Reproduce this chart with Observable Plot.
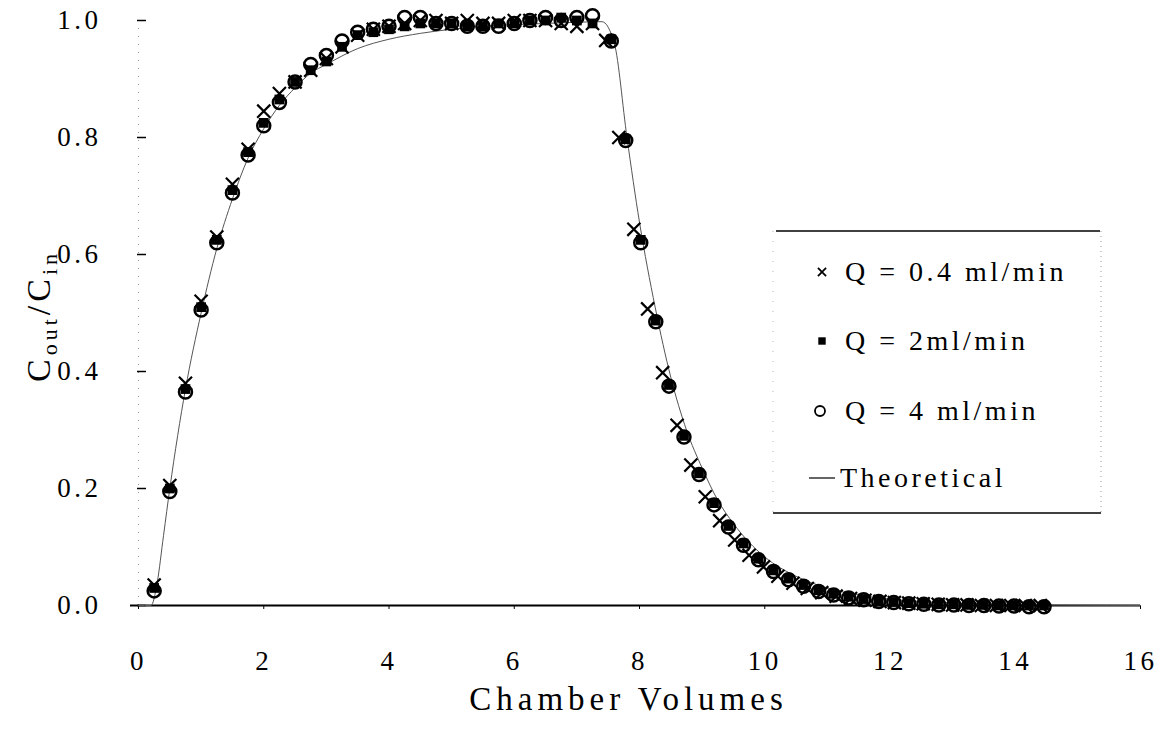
<!DOCTYPE html>
<html><head><meta charset="utf-8">
<script src="https://cdn.jsdelivr.net/npm/d3@7"></script>
<script src="https://cdn.jsdelivr.net/npm/@observablehq/plot@0.6"></script>
<style>
html,body{margin:0;padding:0;background:#fff;}
#chart{position:relative;width:1170px;height:733px;}
</style>
</head><body><div id="chart"></div>
<script>
// ---- Data ----
const xTicks = [0, 2, 4, 6, 8, 10, 12, 14, 16];
const yTicks = [0, 0.2, 0.4, 0.6, 0.8, 1.0];
const legendLabels = ["Q = 0.4 ml/min", "Q = 2ml/min", "Q = 4 ml/min", "Theoretical"];

// Loading phase, chamber volumes
const riseX = [0.25,0.5,0.75,1.0,1.25,1.5,1.75,2.0,2.25,2.5,2.75,3.0,3.25,3.5,3.75,4.0,4.25,4.5,4.75,5.0,5.25,5.5,5.75,6.0,6.25,6.5,6.75,7.0,7.25];
const q04Rise = [0.035,0.205,0.38,0.52,0.63,0.72,0.78,0.845,0.875,0.895,0.915,0.935,0.955,0.975,0.985,0.99,0.995,1.0,1.0,0.995,1.0,0.995,0.995,1.0,1.0,1.0,0.995,0.99,0.995];
const q2Rise  = [0.03,0.2,0.37,0.51,0.625,0.71,0.775,0.825,0.865,0.895,0.915,0.93,0.955,0.975,0.98,0.985,0.99,0.995,0.995,0.995,0.99,0.99,0.995,0.995,1.0,1.0,1.005,1.0,0.995];
const q4Rise  = [0.025,0.195,0.365,0.505,0.62,0.705,0.77,0.82,0.86,0.895,0.925,0.94,0.965,0.98,0.985,0.99,1.005,1.005,0.995,0.995,0.99,0.99,0.99,0.995,1.0,1.005,1.0,1.005,1.008];

// Washout phase
const washX04 = [7.46,7.67,7.91,8.13,8.37,8.6,8.82,9.05,9.28,9.52,9.75,9.98,10.21,10.45,10.68,10.91,11.14,11.37,11.6,11.84,12.07,12.3,12.53,12.77,13.0,13.23,13.46,13.7,13.93,14.16,14.4];
const q04Wash = [0.966,0.80,0.643,0.507,0.398,0.308,0.24,0.186,0.145,0.112,0.086,0.066,0.05,0.038,0.029,0.022,0.016,0.012,0.009,0.007,0.005,0.004,0.003,0.002,0.001,0.001,0,0,0,0,0];
const washX = [7.55,7.78,8.02,8.26,8.47,8.71,8.95,9.19,9.42,9.66,9.9,10.14,10.38,10.62,10.86,11.1,11.34,11.58,11.82,12.06,12.3,12.54,12.78,13.02,13.26,13.5,13.74,13.98,14.22,14.46];
const q2Wash = [0.968,0.797,0.625,0.487,0.377,0.29,0.226,0.175,0.136,0.106,0.08,0.06,0.046,0.035,0.026,0.02,0.015,0.011,0.008,0.006,0.004,0.003,0.002,0.002,0.001,0.001,0,0,0,0];
const q4Wash = [0.965,0.795,0.62,0.485,0.375,0.288,0.224,0.172,0.134,0.103,0.078,0.058,0.044,0.033,0.024,0.018,0.013,0.01,0.007,0.005,0.003,0.002,0.001,0.001,0,0,-0.001,-0.001,-0.002,-0.002];

// Theoretical curve
const theoX = [0,0.2,0.3,0.4,0.5,0.75,1.0,1.25,1.5,1.75,2.0,2.25,2.5,2.75,3.0,3.5,4.0,4.5,5.0,5.5,6.0,6.5,7.0,7.4,7.6,7.8,8.0,8.25,8.5,8.75,9.0,9.25,9.5,9.75,10.0,10.5,11.0,11.5,12.0,13.0,14.0,15.0,16.0];
const theoY = [0,0,0.04,0.12,0.2,0.37,0.5,0.61,0.695,0.765,0.815,0.855,0.885,0.91,0.925,0.952,0.968,0.978,0.985,0.99,0.993,0.995,0.997,0.998,0.96,0.8,0.655,0.51,0.39,0.3,0.235,0.18,0.14,0.108,0.083,0.05,0.03,0.018,0.011,0.004,0.0015,0.0005,0];

// ---- Build tables ----
const rows = (xs, ys) => xs.map((x, i) => ({x, y: ys[i]}));
const q04 = rows(riseX, q04Rise).concat(rows(washX04, q04Wash));
const q2 = rows(riseX, q2Rise).concat(rows(washX, q2Wash));
const q4 = rows(riseX, q4Rise).concat(rows(washX, q4Wash));
const theory = rows(theoX, theoY);

const FONT = "'Liberation Serif', 'Times New Roman', Times, serif";

const plot = Plot.plot({
  width: 1170,
  height: 733,
  marginLeft: 138,
  marginRight: 30,
  marginTop: 20,
  marginBottom: 128,
  x: {domain: [0, 16]},
  y: {domain: [0, 1]},
  style: {fontFamily: FONT, fontSize: "27px", background: "white", color: "black", overflow: "visible"},
  marks: [
    Plot.ruleX([0], {stroke: "#9a9a9a", strokeDasharray: "1,7"}),
    Plot.axisY(yTicks, {tickSize: 0, tickPadding: 37, tickFormat: d => d.toFixed(1), label: null, fontSize: 27}),
    Plot.axisY(yTicks, {tickSize: 9, dx: 8, tickFormat: () => "", label: null, strokeWidth: 1.5}),
    Plot.axisX(xTicks, {tickSize: 4, tickPadding: 41, tickFormat: d => String(d), label: null, fontSize: 27}),
    Plot.ruleY([0], {stroke: "black", strokeWidth: 2, insetLeft: -8}),
    Plot.line(theory, {x: "x", y: "y", stroke: "#555", strokeWidth: 1, curve: "monotone-x"}),
    Plot.dot(q04, {x: "x", y: "y", symbol: "times", r: 6, stroke: "black", strokeWidth: 2.2}),
    Plot.dot(q2, {x: "x", y: "y", symbol: "square", r: 5.5, fill: "black", stroke: "none"}),
    Plot.dot(q4, {x: "x", y: "y", symbol: "circle", r: 6.5, stroke: "black", strokeWidth: 2.5, fill: "none"}),
    Plot.text(["Chamber Volumes"], {text: d => d, frameAnchor: "bottom", dy: 104, dx: -11, fontSize: 33})
  ]
});

const svg = d3.select(plot);
svg.selectAll("text").style("letter-spacing", "3.5px");
svg.selectAll("text").filter(function(){ return this.textContent === "Chamber Volumes"; }).style("letter-spacing", "5px");

// Y axis label with subscripts
const yl = svg.append("text")
  .attr("transform", "translate(50,316) rotate(-90)")
  .attr("text-anchor", "middle")
  .attr("font-family", FONT)
  .attr("font-size", 34)
  .attr("fill", "black")
  .style("letter-spacing", "4px");
yl.append("tspan").text("C");
yl.append("tspan").attr("font-size", 22).attr("dy", 7).text("out");
yl.append("tspan").attr("dy", -7).text("/C");
yl.append("tspan").attr("font-size", 22).attr("dy", 7).text("in");

// Legend
const lg = svg.append("g").attr("font-family", FONT).attr("font-size", 28).attr("fill", "black").attr("text-anchor", "start");
lg.append("line").attr("x1", 776).attr("x2", 1100).attr("y1", 231).attr("y2", 231).attr("stroke", "black").attr("stroke-width", 1.5);
lg.append("line").attr("x1", 773).attr("x2", 1101).attr("y1", 513).attr("y2", 513).attr("stroke", "black").attr("stroke-width", 1.5);
lg.append("line").attr("x1", 773).attr("x2", 773).attr("y1", 231).attr("y2", 513).attr("stroke", "#bbb").attr("stroke-dasharray", "1,9");
lg.append("line").attr("x1", 1101).attr("x2", 1101).attr("y1", 231).attr("y2", 513).attr("stroke", "#999").attr("stroke-dasharray", "1,4");
const baselines = [281, 350, 420, 487];
const sx = 822;
// ×
lg.append("path").attr("d", d3.symbol(d3.symbolTimes, 45)()).attr("transform", `translate(${sx},${baselines[0]-9})`).attr("stroke", "black").attr("stroke-width", 1.8).attr("fill", "none");
// ■
lg.append("path").attr("d", d3.symbol(d3.symbolSquare, 55)()).attr("transform", `translate(${sx},${baselines[1]-9})`).attr("fill", "black");
// ○
lg.append("circle").attr("cx", sx - 2).attr("cy", baselines[2] - 9).attr("r", 5).attr("fill", "none").attr("stroke", "black").attr("stroke-width", 1.8);
// —
lg.append("line").attr("x1", 809).attr("x2", 835).attr("y1", baselines[3] - 9).attr("y2", baselines[3] - 9).attr("stroke", "black").attr("stroke-width", 1.2);
legendLabels.forEach((t, i) => {
  lg.append("text").attr("x", i === 3 ? 840 : 845).attr("y", baselines[i]).attr("text-anchor", "start").style("letter-spacing", "3.5px").text(t);
});

document.getElementById("chart").appendChild(plot);
</script>
</body></html>
